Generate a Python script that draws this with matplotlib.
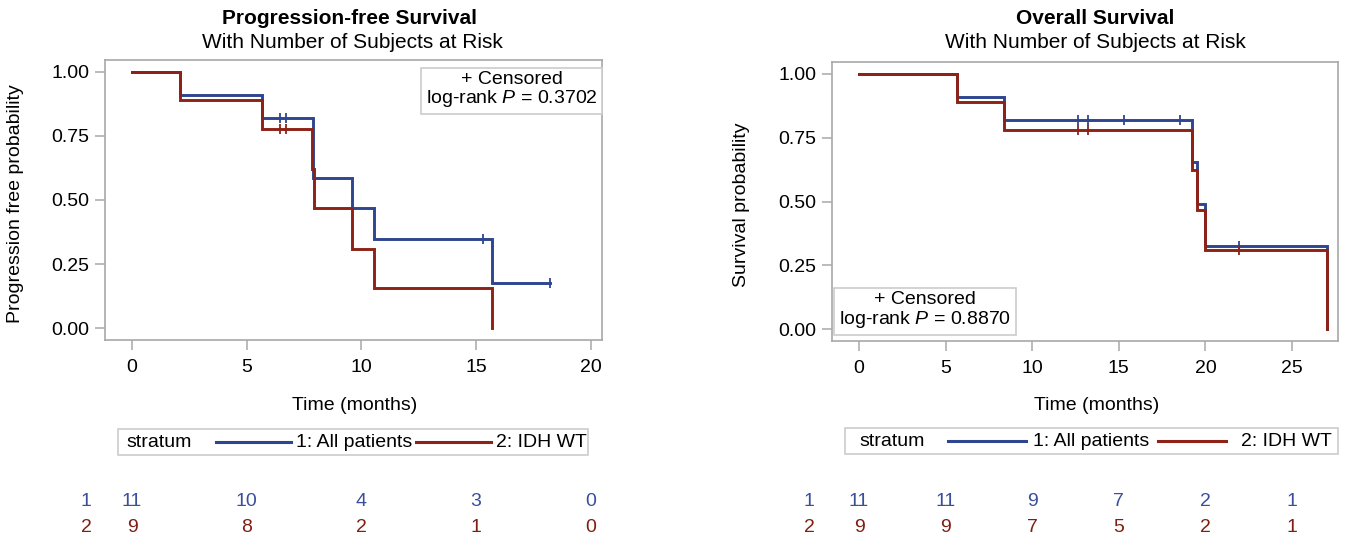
import numpy as np
import matplotlib
matplotlib.use("Agg")
import matplotlib.pyplot as plt
from matplotlib.lines import Line2D
from matplotlib.offsetbox import AnchoredOffsetbox, HPacker, TextArea, DrawingArea
from matplotlib.transforms import blended_transform_factory

plt.rcParams['font.family'] = ['Liberation Sans', 'DejaVu Sans']
plt.rcParams['mathtext.fontset'] = 'custom'
plt.rcParams['mathtext.rm'] = 'Liberation Sans'
plt.rcParams['mathtext.it'] = 'Liberation Sans:italic'

DPI = 100
W, H = 1356, 536
BLUE = '#2e4690'
RED = '#8e2216'
BLUE_TXT = '#3a4f9c'
RED_TXT = '#7e1f12'
GRID = '#a8a8a8'
FS = 14

# --- Progression-free survival (months) ---
pfs_all_t = [0, 2.1, 5.68, 7.9, 9.6, 10.57, 15.7, 18.25]
pfs_all_s = [1.0, 0.909, 0.818, 0.584, 0.467, 0.350, 0.175, 0.175]
pfs_all_cens = [6.46, 6.72, 15.3, 18.25]
pfs_idh_t = [0, 2.1, 5.68, 7.85, 7.95, 9.6, 10.57, 15.7]
pfs_idh_s = [1.0, 0.889, 0.778, 0.622, 0.467, 0.311, 0.156, 0.0]
pfs_idh_cens = [6.46, 6.72]
pfs_risk_times = [0, 5, 10, 15, 20]
pfs_risk_all = [11, 10, 4, 3, 0]
pfs_risk_idh = [9, 8, 2, 1, 0]

# --- Overall survival (months) ---
os_all_t = [0, 5.64, 8.37, 19.23, 19.5, 19.97, 27.0]
os_all_s = [1.0, 0.909, 0.818, 0.655, 0.491, 0.327, 0.0]
os_all_cens = [12.64, 13.2, 15.3, 18.53, 21.94]
os_idh_t = [0, 5.64, 8.37, 19.23, 19.5, 19.97, 27.0]
os_idh_s = [1.0, 0.889, 0.778, 0.622, 0.467, 0.311, 0.0]
os_idh_cens = [12.64, 13.2, 21.94]
os_risk_times = [0, 5, 10, 15, 20, 25]
os_risk_all = [11, 11, 9, 7, 2, 1]
os_risk_idh = [9, 9, 7, 5, 2, 1]


def fx(p):
    return p / W


def fy(p):
    return 1 - p / H


def pt(p):
    return p * 72 / DPI


def step_value(t, s, c):
    t = np.asarray(t)
    idx = np.searchsorted(t, c, side='right') - 1
    return np.asarray(s)[idx]


def km(ax, t, s, cens, color):
    ax.step(t, s, where='post', color=color, lw=2.1, solid_joinstyle='miter')
    ax.plot(cens, step_value(t, s, cens), ls='none', marker='|', ms=7,
            mew=1.3, color=color)


def style_axes(ax, xlim, xticks):
    ax.set_xlim(*xlim)
    ax.set_ylim(-0.045, 1.045)
    ax.set_xticks(xticks)
    ax.set_yticks([0, 0.25, 0.5, 0.75, 1.0])
    ax.set_yticklabels([f"{v:.2f}" for v in [0, 0.25, 0.5, 0.75, 1.0]])
    for sp in ax.spines.values():
        sp.set_color(GRID)
        sp.set_linewidth(1.2)
    ax.tick_params(axis='both', colors=GRID, labelcolor='black',
                   labelsize=FS, length=7, width=1.1)
    ax.tick_params(axis='x', pad=7)
    ax.tick_params(axis='y', pad=4)


def stratum_legend(fig, left, top, gaps, lens):
    def spacer(w):
        return DrawingArea(pt(w), pt(25))

    def sample(color, w):
        da = DrawingArea(pt(w), pt(10))
        da.add_artist(Line2D([0, pt(w)], [pt(5), pt(5)], color=color, lw=2.2))
        return da

    def txt(s):
        return TextArea(s, textprops=dict(fontsize=FS, color='black'))

    kids = [spacer(gaps[0]), txt('stratum'), spacer(gaps[1]),
            sample(BLUE, lens[0]), spacer(gaps[2]), txt('1: All patients'),
            spacer(gaps[3]), sample(RED, lens[1]), spacer(gaps[4]),
            txt('2: IDH WT'), spacer(gaps[5])]
    box = HPacker(children=kids, align='center', pad=0, sep=0)
    ab = AnchoredOffsetbox(loc='upper left', child=box, pad=0.05, borderpad=0,
                           frameon=True, bbox_to_anchor=(fx(left), fy(top)),
                           bbox_transform=fig.transFigure)
    ab.patch.set_edgecolor('#cccccc')
    ab.patch.set_linewidth(1.2)
    fig.add_artist(ab)


def risk_table(fig, ax, times, all_n, idh_n, label_x):
    tr = blended_transform_factory(ax.transData, fig.transFigure)
    for t, a, b in zip(times, all_n, idh_n):
        ax.text(t, fy(501), str(a), transform=tr, ha='center', va='center',
                fontsize=FS, color=BLUE_TXT, clip_on=False)
        ax.text(t, fy(527), str(b), transform=tr, ha='center', va='center',
                fontsize=FS, color=RED_TXT, clip_on=False)
    fig.text(fx(label_x), fy(501), '1', ha='center', va='center',
             fontsize=FS, color=BLUE_TXT)
    fig.text(fx(label_x), fy(527), '2', ha='center', va='center',
             fontsize=FS, color=RED_TXT)


fig = plt.figure(figsize=(W / DPI, H / DPI), dpi=DPI)

# ---------------- left panel: PFS ----------------
ax1 = fig.add_axes([fx(105), fy(340), fx(602) - fx(105), fy(60) - fy(340)])
km(ax1, pfs_all_t, pfs_all_s, pfs_all_cens, BLUE)
km(ax1, pfs_idh_t, pfs_idh_s, pfs_idh_cens, RED)
style_axes(ax1, (-1.18, 20.5), [0, 5, 10, 15, 20])
ax1.text(0.818, 0.893, '+ Censored\nlog-rank $P$ = 0.3702', transform=ax1.transAxes,
         ha='center', va='center', multialignment='center', fontsize=FS,
         linespacing=1.05,
         bbox=dict(boxstyle='square,pad=0.25', fc='white', ec='#cccccc', lw=1.2))
fig.text(fx(350), fy(18), 'Progression-free Survival', ha='center', va='center',
         fontsize=15, fontweight='bold')
fig.text(fx(352), fy(43), 'With Number of Subjects at Risk', ha='center',
         va='center', fontsize=15)
fig.text(fx(355), fy(405), 'Time (months)', ha='center', va='center', fontsize=FS)
fig.text(fx(16), fy(204), 'Progression free probability', ha='center',
         va='center', rotation=90, fontsize=FS)
stratum_legend(fig, 118, 429, [8, 24, 5, 4, 5, 0], [75, 75])
risk_table(fig, ax1, pfs_risk_times, pfs_risk_all, pfs_risk_idh, 86)

# ---------------- right panel: OS ----------------
ax2 = fig.add_axes([fx(832), fy(341), fx(1338) - fx(832), fy(62) - fy(341)])
km(ax2, os_all_t, os_all_s, os_all_cens, BLUE)
km(ax2, os_idh_t, os_idh_s, os_idh_cens, RED)
style_axes(ax2, (-1.56, 27.65), [0, 5, 10, 15, 20, 25])
ax2.text(0.184, 0.109, '+ Censored\nlog-rank $P$ = 0.8870', transform=ax2.transAxes,
         ha='center', va='center', multialignment='center', fontsize=FS,
         linespacing=1.05,
         bbox=dict(boxstyle='square,pad=0.25', fc='white', ec='#cccccc', lw=1.2))
fig.text(fx(1095), fy(18), 'Overall Survival', ha='center', va='center',
         fontsize=15, fontweight='bold')
fig.text(fx(1095), fy(43), 'With Number of Subjects at Risk', ha='center',
         va='center', fontsize=15)
fig.text(fx(1097), fy(405), 'Time (months)', ha='center', va='center', fontsize=FS)
fig.text(fx(741), fy(205), 'Survival probability', ha='center', va='center',
         rotation=90, fontsize=FS)
stratum_legend(fig, 845, 428, [14, 23, 7, 9, 15, 5], [78, 68])
risk_table(fig, ax2, os_risk_times, os_risk_all, os_risk_idh, 809)

fig.savefig('out.png', dpi=DPI)
